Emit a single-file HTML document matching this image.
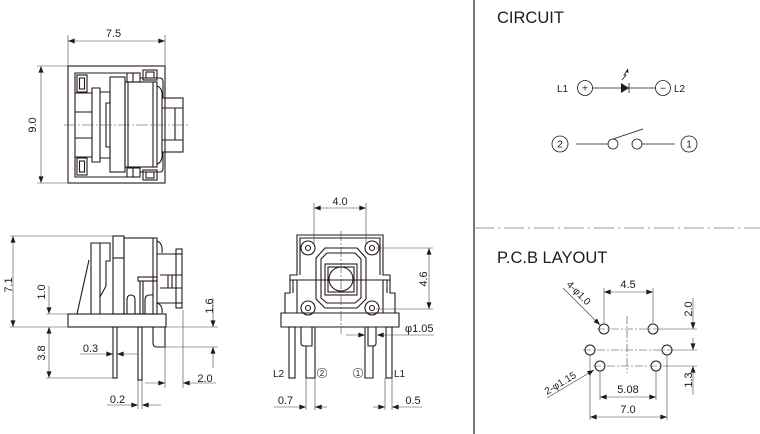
<!DOCTYPE html>
<html><head><meta charset="utf-8"><style>
html,body{margin:0;padding:0;background:#fff;}
svg{display:block;}
text{font-family:"Liberation Sans",Arial,sans-serif;fill:#231815;font-size:11px;}
</style></head><body>
<svg width="760" height="434" viewBox="0 0 760 434" xmlns="http://www.w3.org/2000/svg">
<defs>
<marker id="a" viewBox="0 0 8 6" refX="8" refY="3" markerWidth="7" markerHeight="5" markerUnits="userSpaceOnUse" orient="auto-start-reverse"><path d="M0,0L8,3L0,6z" fill="#231815"/></marker>
</defs>

<!-- ========== TOP VIEW ========== -->
<g fill="none" stroke="#231815" stroke-width="1.1">
<rect x="68" y="66" width="97" height="117"/>
<path d="M127,73H75V177H127"/>
<rect x="77" y="75" width="10" height="17"/><rect x="79.5" y="78" width="5" height="11"/>
<rect x="77" y="158" width="10" height="17"/><rect x="79.5" y="161" width="5" height="11"/>
<path d="M75,93H92M75,112H92M75,138H92M75,157H92"/>
<path d="M92,88H100V92H110V103H106V147H110V158H100V162H92Z M100,92V158"/>
<rect x="110" y="77" width="15" height="95"/>
<rect x="125" y="82" width="32" height="85"/>
<path d="M128,82V167M153,82V167"/>
<rect x="127" y="73" width="13" height="9"/><path d="M133,73V82"/>
<rect x="143" y="70" width="14" height="10"/><rect x="146" y="72" width="8" height="6"/>
<rect x="127" y="168" width="13" height="9"/><path d="M133,168V177"/>
<rect x="143" y="170" width="14" height="10"/><rect x="146" y="172" width="8" height="6"/>
<path d="M140,78H160Q163,78 163,82V98"/>
<path d="M140,172H160Q163,172 163,168V152"/>
<path d="M157,86Q163,88 162,98"/>
<path d="M157,164Q163,162 162,152"/>
<rect x="162" y="98" width="21" height="54"/>
<path d="M162,108H183M162,140H183M175,108V140"/>
</g>
<g fill="none" stroke="#444" stroke-width="0.6">
<path d="M64,125H190" stroke-dasharray="12 2 2 2"/>
<path d="M68,35V66M165,35V66"/>
<path d="M68,41H165" marker-start="url(#a)" marker-end="url(#a)"/>
<path d="M37,66H68M37,183H68"/>
<path d="M41,66V183" marker-start="url(#a)" marker-end="url(#a)"/>
</g>
<text x="113.5" y="37" text-anchor="middle">7.5</text>
<text x="36" y="125" text-anchor="middle" transform="rotate(-90 36 125)">9.0</text>

<!-- ========== SIDE VIEW ========== -->
<g fill="none" stroke="#231815" stroke-width="1.1">
<rect x="68" y="314" width="98" height="13"/>
<path d="M89,260L77,314"/>
<path d="M91,243H110V261H106V286L100,297V314H91Z M100,243V297"/>
<rect x="113" y="236" width="11" height="78"/>
<path d="M113,258H124"/>
<rect x="124" y="238" width="33" height="76"/>
<path d="M153,238V314"/>
<path d="M157,241Q163,243 162,253"/>
<path d="M157,303Q163,305 162,313"/>
<rect x="176" y="249" width="6" height="5"/>
<rect x="176" y="303" width="6" height="5"/>
<path d="M157,254H182V303H157M176,254V303M160,275H182M160,288H182M168,275V288M172,275V288"/>
<rect x="138" y="277" width="19" height="4"/>
<path d="M140,281V314M143,281V314"/>
<path d="M127,314V300Q127,295 131,295Q135,295 135,300V314"/>
<path d="M145,314V300Q145,295 150,295H153"/>
<rect x="113" y="327" width="4" height="51"/>
<rect x="138" y="327" width="4" height="53"/>
<path d="M153,327V343Q153,347 157,347H165V327"/>
</g>
<g fill="none" stroke="#444" stroke-width="0.6">
<path d="M10,236H113M10,327H68"/>
<path d="M13,236V327" marker-start="url(#a)" marker-end="url(#a)"/>
<path d="M46,314H68"/>
<path d="M49,286V314" marker-end="url(#a)"/>
<path d="M46,378H113"/>
<path d="M49,327V378" marker-start="url(#a)" marker-end="url(#a)"/>
<path d="M80,354H113" marker-end="url(#a)"/>
<path d="M137,354H117" marker-end="url(#a)"/>
<path d="M165,347V388M183,310V388"/>
<path d="M145,383H165" marker-end="url(#a)"/>
<path d="M216,383H183" marker-end="url(#a)"/>
<path d="M166,327H218M165,347H218"/>
<path d="M213,298V327" marker-end="url(#a)"/>
<path d="M213,368V347" marker-end="url(#a)"/>
<path d="M138,380V409M142,380V409"/>
<path d="M107,405H138" marker-end="url(#a)"/>
<path d="M161,405H142" marker-end="url(#a)"/>
</g>
<text x="12" y="285" text-anchor="middle" transform="rotate(-90 12 285)">7.1</text>
<text x="45" y="292" text-anchor="middle" transform="rotate(-90 45 292)">1.0</text>
<text x="45" y="353" text-anchor="middle" transform="rotate(-90 45 353)">3.8</text>
<text x="90.5" y="352" text-anchor="middle">0.3</text>
<text x="205" y="382" text-anchor="middle">2.0</text>
<text x="213" y="306" text-anchor="middle" transform="rotate(-90 213 306)">1.6</text>
<text x="117.5" y="403" text-anchor="middle">0.2</text>

<!-- ========== FRONT VIEW ========== -->
<g fill="none" stroke="#231815" stroke-width="1.1">
<path d="M281,327V313H285V293H290V275H297V235H383V275H390V293H395V313H399V327Z"/>
<path d="M300,275V238H380V275"/>
<path d="M290,280H390M285,313H395M297,280V313M383,280V313M293,280V293M387,280V293"/>
<path d="M325,248H357L366,258V299L357,308H325L316,299V258Z"/>
<path d="M327,253H355L361,259V298L355,303H327L321,298V259Z"/>
<rect x="325" y="264" width="32" height="31"/>
<rect x="328" y="267" width="26" height="25"/>
<circle cx="341" cy="279" r="12"/>
<circle cx="308" cy="248" r="7"/><circle cx="308" cy="248" r="2.5"/>
<circle cx="372" cy="248" r="7"/><circle cx="372" cy="248" r="2.5"/>
<circle cx="308" cy="308" r="7"/><circle cx="308" cy="308" r="2.5"/>
<circle cx="372" cy="308" r="7"/><circle cx="372" cy="308" r="2.5"/>
<rect x="289" y="327" width="6" height="51"/>
<rect x="386" y="327" width="6" height="51"/>
<path d="M301,327V343Q301,346 304,346H312V327M306,346V378H315V327"/>
<path d="M376,327V343Q376,346 373,346H368V327M365,327V378H373V346"/>
</g>
<g fill="none" stroke="#444" stroke-width="0.6">
<path d="M341,231V334" stroke-dasharray="10 2 2 2"/>
<path d="M314,203V243M366,203V243"/>
<path d="M314,208H366" marker-start="url(#a)" marker-end="url(#a)"/>
<path d="M376,248H433M376,309H433"/>
<path d="M429,248V309" marker-start="url(#a)" marker-end="url(#a)"/>
<path d="M346,335H365" marker-end="url(#a)"/>
<path d="M434,335H377" marker-end="url(#a)"/>
<path d="M306,378V410M315,378V410M385,378V410M392,378V410"/>
<path d="M274,407H306" marker-end="url(#a)"/>
<path d="M327,407H315" marker-end="url(#a)"/>
<path d="M373,407H385" marker-end="url(#a)"/>
<path d="M422,407H392" marker-end="url(#a)"/>
<circle cx="322" cy="373" r="4.8"/>
<circle cx="358" cy="373" r="4.8"/>
</g>
<text x="340" y="205" text-anchor="middle">4.0</text>
<text x="427" y="279" text-anchor="middle" transform="rotate(-90 427 279)">4.6</text>
<text x="405" y="332">φ1.05</text>
<text x="273" y="377" style="font-size:10px">L2</text>
<text x="394" y="377" style="font-size:10px">L1</text>
<text x="322" y="376" text-anchor="middle" style="font-size:8px">2</text>
<text x="358" y="376" text-anchor="middle" style="font-size:8px">1</text>
<text x="285.5" y="404" text-anchor="middle">0.7</text>
<text x="413" y="404" text-anchor="middle">0.5</text>

<!-- ========== DIVIDERS ========== -->
<path d="M474,0V434" stroke="#231815" stroke-width="1.2"/>
<path d="M474,228H760" stroke="#999" stroke-width="1" stroke-dasharray="20 4 2 4"/>

<!-- ========== CIRCUIT ========== -->
<text x="497" y="23" style="font-size:16.5px">CIRCUIT</text>
<g fill="none" stroke="#231815" stroke-width="0.8">
<circle cx="585" cy="88" r="7.5"/>
<circle cx="663" cy="88" r="7.5"/>
<path d="M592.5,88H655.5"/>
<path d="M629,83V93"/>
<path d="M622,80L626,75H624L628,69"/>
<circle cx="560" cy="144" r="8"/>
<circle cx="689" cy="144" r="8"/>
<path d="M576,144H608M642,144H675"/>
<circle cx="613" cy="144" r="5"/>
<circle cx="637" cy="144" r="5"/>
<path d="M613,139L643,129"/>
</g>
<path d="M621,83L629,88L621,93Z" fill="#231815"/>
<path d="M628,69L628.5,73L626,72Z" fill="#231815"/>
<text x="585" y="91.5" text-anchor="middle" style="font-size:10px">+</text>
<text x="663" y="91.5" text-anchor="middle" style="font-size:10px">−</text>
<text x="557" y="92" style="font-size:10px">L1</text>
<text x="674" y="92" style="font-size:10px">L2</text>
<text x="560" y="147.5" text-anchor="middle" style="font-size:10px">2</text>
<text x="689" y="147.5" text-anchor="middle" style="font-size:10px">1</text>

<!-- ========== PCB LAYOUT ========== -->
<text x="497" y="263" style="font-size:16.5px">P.C.B LAYOUT</text>
<g fill="none" stroke="#231815" stroke-width="1">
<circle cx="604" cy="329" r="5"/>
<circle cx="653" cy="329" r="5"/>
<circle cx="590" cy="350" r="5"/>
<circle cx="667" cy="350" r="5"/>
<circle cx="600" cy="366" r="5"/>
<circle cx="656" cy="366" r="5"/>
</g>
<g fill="none" stroke="#444" stroke-width="0.6">
<path d="M627,316V373M597,329H660M583,350H674M593,366H663" stroke-dasharray="8 2 2 2"/>
<path d="M660,329H697M674,350H697M663,366H697"/>
<path d="M604,288V323M653,288V323"/>
<path d="M604,292H653" marker-start="url(#a)" marker-end="url(#a)"/>
<path d="M693,298V329" marker-end="url(#a)"/>
<path d="M693,338V350" marker-end="url(#a)"/>
<path d="M693,395V366" marker-end="url(#a)"/>
<path d="M600,371V400M656,371V400M590,355V420M667,355V420"/>
<path d="M600,397H656" marker-start="url(#a)" marker-end="url(#a)"/>
<path d="M590,417H667" marker-start="url(#a)" marker-end="url(#a)"/>
<path d="M563,288L600,325" marker-end="url(#a)"/>
<path d="M547,398L594,370" marker-end="url(#a)"/>
</g>
<text x="628" y="288" text-anchor="middle">4.5</text>
<text x="692" y="309" text-anchor="middle" transform="rotate(-90 692 309)">2.0</text>
<text x="692" y="380" text-anchor="middle" transform="rotate(-90 692 380)">1.3</text>
<text x="628" y="393" text-anchor="middle">5.08</text>
<text x="628" y="413" text-anchor="middle">7.0</text>
<text x="566" y="285" style="font-size:10px" transform="rotate(45 566 285)">4-φ1.0</text>
<text x="547" y="395" style="font-size:10px" transform="rotate(-31 547 395)">2-φ1.15</text>
</svg>
</body></html>
